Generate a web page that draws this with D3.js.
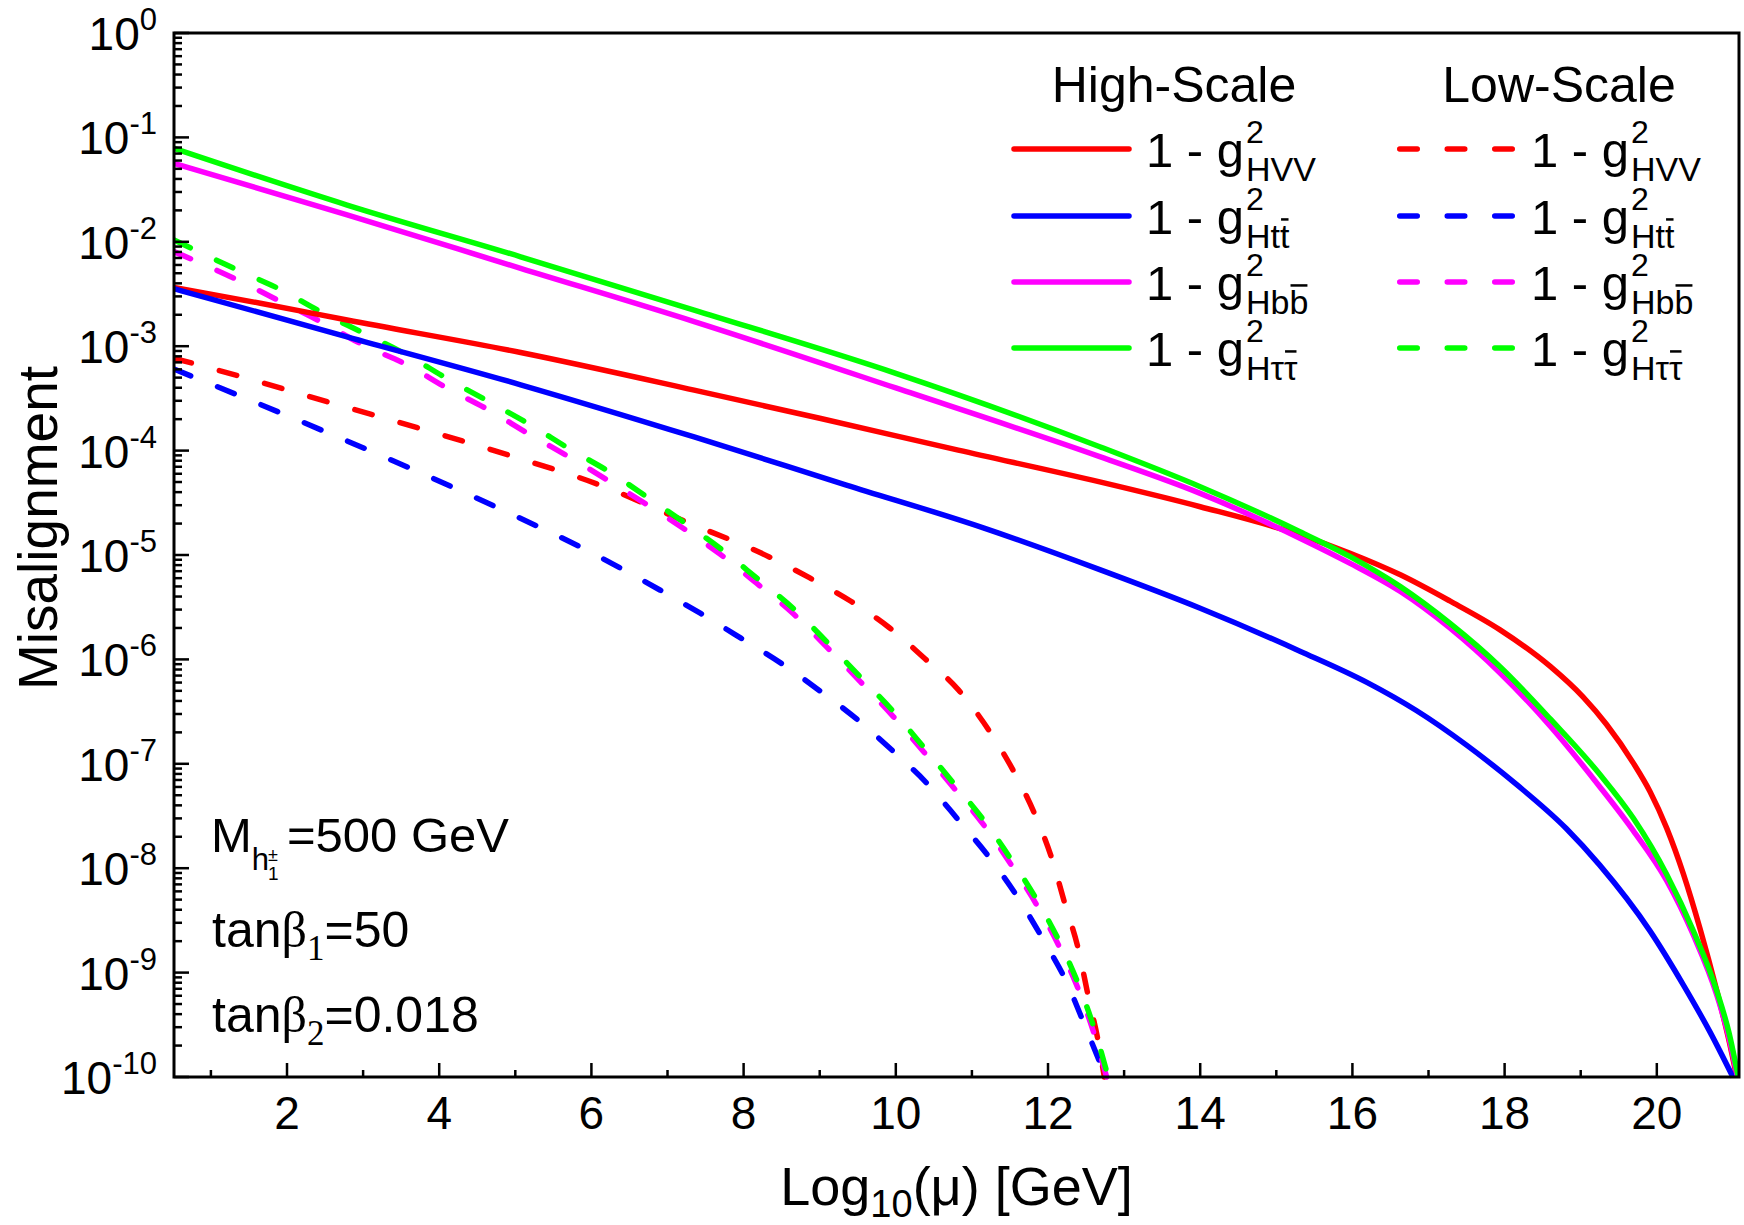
<!DOCTYPE html>
<html>
<head>
<meta charset="utf-8">
<script src="https://cdn.jsdelivr.net/npm/d3@7"></script>
<style>
  html, body { margin: 0; padding: 0; background: #fff; }
  svg text { font-family: "Liberation Sans", Arial, sans-serif; fill: #000; }
</style>
</head>
<body>
<svg id="chart" width="1744" height="1225"></svg>
<script>
// ---------------- data ----------------
// High-scale (solid) curves
const hsVV_x = [0.515,1.65,2.79,5.07,7.35,9.0,10.82,12.68,14.0,15.31,15.97,16.63,17.28,17.94,18.60,19.03,19.34,19.69,19.91,20.13,20.35,20.57,20.79,20.96,21.05];
const hsVV_y = [3.66e-3,2.58e-3,1.78e-3,8.71e-4,3.80e-4,2.04e-4,1.01e-4,5.01e-5,2.90e-5,1.56e-5,1.04e-5,6.46e-6,3.63e-6,1.92e-6,8.57e-7,4.38e-7,2.38e-7,1.02e-7,5.43e-8,2.42e-8,8.77e-9,2.60e-9,6.62e-10,2.05e-10,1e-10];

const hsTT_x = [0.515,2.79,5.07,7.35,9.35,11.15,12.68,14.0,15.31,16.19,16.84,17.50,18.16,18.81,19.25,19.91,20.35,20.70,21.0];
const hsTT_y = [3.55e-3,1.23e-3,4.27e-4,1.35e-4,4.68e-5,1.82e-5,7.24e-6,3.09e-6,1.20e-6,6.03e-7,3.24e-7,1.51e-7,6.31e-8,2.40e-8,1.07e-8,2.51e-9,7.59e-10,2.69e-10,1e-10];

const hsBB_x = [0.515,2.79,5.07,7.35,10.0,12.68,14.0,15.31,15.97,16.63,17.28,17.94,18.60,19.25,19.69,20.13,20.48,20.79,20.94,21.06];
const hsBB_y = [5.65e-2,1.81e-2,5.57e-3,1.72e-3,3.98e-4,8.75e-5,3.89e-5,1.45e-5,8.32e-6,4.47e-6,2.00e-6,7.41e-7,2.29e-7,6.03e-8,2.29e-8,7.59e-9,2.29e-9,6.03e-10,2.51e-10,1e-10];

const hsTauTau_x = [0.515,2.79,5.07,7.35,10.0,12.68,14.0,15.31,15.97,16.63,17.28,17.94,18.60,19.25,19.69,20.13,20.48,20.79,20.95,21.07];
const hsTauTau_y = [7.85e-2,2.25e-2,7.19e-3,2.22e-3,5.50e-4,1.09e-4,4.51e-5,1.67e-5,9.64e-6,4.98e-6,2.22e-6,8.51e-7,2.69e-7,7.94e-8,3.02e-8,8.71e-9,2.51e-9,6.61e-10,2.63e-10,1e-10];

// Low-scale (dashed) curves
const lsVV_x = [0.515,1.39,2.6,3.8,4.98,6.17,7.19,8.33,8.87,9.42,9.92,10.38,10.82,11.22,11.54,11.83,12.05,12.22,12.40,12.53,12.66,12.74];
const lsVV_y = [7.66e-4,5.13e-4,2.84e-4,1.59e-4,8.75e-5,4.51e-5,2.16e-5,9.64e-6,6.03e-6,3.57e-6,2.00e-6,1.02e-6,5.13e-7,2.11e-7,8.71e-8,3.24e-8,1.24e-8,4.61e-9,1.66e-9,5.89e-10,2.19e-10,1e-10];

const lsTT_x = [0.515,1.35,2.51,3.67,4.83,5.93,6.90,7.43,7.97,8.50,9.0,9.49,9.97,10.43,10.84,11.24,11.61,11.94,12.25,12.49,12.76];
const lsTT_y = [6.03e-4,3.41e-4,1.51e-4,6.52e-5,2.70e-5,1.12e-5,4.62e-6,2.77e-6,1.59e-6,9.12e-7,5.01e-7,2.67e-7,1.31e-7,6.27e-8,2.79e-8,1.24e-8,5.15e-9,2.05e-9,7.94e-10,3.03e-10,1e-10];

const lsBB_x = [0.515,1.35,1.92,2.44,3.01,3.58,4.10,4.65,5.20,5.73,6.25,6.78,7.30,7.69,8.17,8.65,9.09,9.53,9.97,10.36,10.76,11.17,11.52,11.85,12.16,12.42,12.62,12.77];
const lsBB_y = [8.05e-3,4.31e-3,2.67e-3,1.72e-3,1.02e-3,6.61e-4,3.98e-4,2.45e-4,1.41e-4,8.51e-5,5.01e-5,2.88e-5,1.62e-5,1.02e-5,5.37e-6,2.75e-6,1.32e-6,6.17e-7,2.82e-7,1.32e-7,5.89e-8,2.51e-8,1.07e-8,4.47e-9,1.70e-9,6.31e-10,2.40e-10,1e-10];

const lsTauTau_x = [0.515,1.35,1.92,2.44,3.01,3.58,4.10,4.65,5.20,5.73,6.25,6.78,7.30,7.69,8.17,8.65,9.09,9.53,9.97,10.36,10.76,11.17,11.52,11.85,12.16,12.42,12.62,12.79];
const lsTauTau_y = [1.04e-2,5.37e-3,3.47e-3,2.14e-3,1.33e-3,8.24e-4,4.90e-4,2.95e-4,1.76e-4,1.02e-4,6.17e-5,3.39e-5,1.86e-5,1.16e-5,6.03e-6,3.09e-6,1.48e-6,6.82e-7,3.16e-7,1.46e-7,6.50e-8,2.79e-8,1.20e-8,5.01e-9,1.91e-9,7.08e-10,2.72e-10,1e-10];

// axes
const xDomain = [0.515, 21.08];
const yDomain = [1e-10, 1];
const xMajorTicks = [2,4,6,8,10,12,14,16,18,20];
const xMinorTicks = [1,3,5,7,9,11,13,15,17,19];
const yMajorTicks = [1,1e-1,1e-2,1e-3,1e-4,1e-5,1e-6,1e-7,1e-8,1e-9,1e-10];
const yTickExponents = ["0","-1","-2","-3","-4","-5","-6","-7","-8","-9","-10"];

const seriesNames = ["HVV","Htt","Hbb","Hττ"];
const seriesColors = ["#ff0000","#0000ff","#ff00ff","#00ff00"];

// ---------------- drawing ----------------
const svg = d3.select("#chart");
const L = 174, R = 1739, T = 33, B = 1077;
const x = d3.scaleLinear().domain(xDomain).range([L, R]);
const y = d3.scaleLog().domain(yDomain).range([B, T]);

svg.append("defs").append("clipPath").attr("id","clip")
  .append("rect").attr("x",L).attr("y",T-4).attr("width",R-L).attr("height",B-T+8);

const high = [[hsVV_x,hsVV_y],[hsTT_x,hsTT_y],[hsBB_x,hsBB_y],[hsTauTau_x,hsTauTau_y]];
const low  = [[lsVV_x,lsVV_y],[lsTT_x,lsTT_y],[lsBB_x,lsBB_y],[lsTauTau_x,lsTauTau_y]];

const line = d3.line().x(d => x(d[0])).y(d => y(d[1])).curve(d3.curveMonotoneX);
const gLines = svg.append("g").attr("clip-path","url(#clip)");

// dashed low-scale curves
low.forEach((s, i) => {
  const pts = s[0].map((v, k) => [v, s[1][k]]);
  gLines.append("path").attr("d", line(pts)).attr("fill","none")
    .attr("stroke", seriesColors[i]).attr("stroke-width",5.5)
    .attr("stroke-dasharray","18,29").attr("stroke-linecap","round");
});
// solid high-scale curves
high.forEach((s, i) => {
  const pts = s[0].map((v, k) => [v, s[1][k]]);
  gLines.append("path").attr("d", line(pts)).attr("fill","none")
    .attr("stroke", seriesColors[i]).attr("stroke-width",5.5)
    .attr("stroke-linejoin","round");
});

// axes ticks
const gAx = svg.append("g").attr("stroke","#000").attr("stroke-width",2.5);
xMajorTicks.forEach(v => gAx.append("line").attr("x1",x(v)).attr("x2",x(v)).attr("y1",B).attr("y2",B-14));
xMinorTicks.forEach(v => gAx.append("line").attr("x1",x(v)).attr("x2",x(v)).attr("y1",B).attr("y2",B-7));
const yAll = y.ticks(11);
yAll.forEach(v => {
  const isMajor = yMajorTicks.some(m => Math.abs(Math.log10(m) - Math.log10(v)) < 1e-6);
  gAx.append("line").attr("x1",L).attr("x2",L + (isMajor ? 15 : 8)).attr("y1",y(v)).attr("y2",y(v));
});

// frame
svg.append("rect").attr("x",L).attr("y",T).attr("width",R-L).attr("height",B-T)
  .attr("fill","none").attr("stroke","#000").attr("stroke-width",3);

// x tick labels
xMajorTicks.forEach(v => {
  svg.append("text").attr("x",x(v)).attr("y",1129).attr("text-anchor","middle")
    .style("font-size","46px").text(v);
});
// y tick labels
yMajorTicks.forEach((v, i) => {
  const t = svg.append("text").attr("x",157).attr("y",y(v)+17).attr("text-anchor","end");
  t.append("tspan").style("font-size","46px").text("10");
  t.append("tspan").attr("dy",-20).style("font-size","31px").text(yTickExponents[i]);
});

// axis titles
const xt = svg.append("text").attr("x",(L+R)/2).attr("y",1205).attr("text-anchor","middle").style("font-size","54px");
xt.append("tspan").text("Log");
xt.append("tspan").attr("dy",12).style("font-size","38px").text("10");
xt.append("tspan").attr("dy",-12).text("(μ) [GeV]");

svg.append("text").attr("transform","translate(57,528) rotate(-90)").attr("text-anchor","middle")
  .style("font-size","55px").text("Misalignment");

// legend
const legendRows = [149, 216, 282, 348];
svg.append("text").attr("x",1174).attr("y",102).attr("text-anchor","middle").style("font-size","50px").text("High-Scale");
svg.append("text").attr("x",1559).attr("y",102).attr("text-anchor","middle").style("font-size","50px").text("Low-Scale");

// measure "1 - g" width once
const meas = svg.append("text").style("font-size","49px").text("1 - g");
const gw = meas.node().getComputedTextLength();
meas.remove();

function legendColumn(x0, dashed) {
  // one text block per legend column (labels are stacked lines)
  const t = svg.append("text");
  const xs = x0 + gw + 2;
  seriesNames.forEach((nm, i) => {
    const yl = legendRows[i];
    t.append("tspan").attr("x",x0).attr("y",yl+17.7).style("font-size","49px").text("1 - g");
    t.append("tspan").attr("x",xs).attr("y",yl-6).style("font-size","32px").text("2");
    t.append("tspan").attr("x",xs).attr("y",yl+32).style("font-size","34px").text(nm);
  });
  // overbars on the antiparticle symbol
  let idx = 0;
  seriesNames.forEach((nm, i) => {
    const yl = legendRows[i];
    const last = idx + 5 + 1 + nm.length - 1;
    if (nm !== "HVV") {
      const ext = t.node().getExtentOfChar(last);
      const by = yl + 32 - 34*0.84;
      svg.append("line").attr("x1",ext.x+1).attr("x2",ext.x+ext.width-1)
        .attr("y1",by).attr("y2",by).attr("stroke","#000").attr("stroke-width",2.5);
    }
    idx += 5 + 1 + nm.length;
  });
}
seriesNames.forEach((nm, i) => {
  const yl = legendRows[i];
  svg.append("line").attr("x1",1014).attr("x2",1129).attr("y1",yl).attr("y2",yl)
    .attr("stroke",seriesColors[i]).attr("stroke-width",5.5).attr("stroke-linecap","round");
  svg.append("line").attr("x1",1399.75).attr("x2",1512.25).attr("y1",yl).attr("y2",yl)
    .attr("stroke",seriesColors[i]).attr("stroke-width",5.5).attr("stroke-linecap","round")
    .attr("stroke-dasharray","17.5,30");
});
legendColumn(1146, false);
legendColumn(1531, true);

// annotations
const m = svg.append("text").attr("x",211).attr("y",852).style("font-size","49px");
m.append("tspan").text("M");
m.append("tspan").attr("dy",18).style("font-size","31px").text("h");
const hx = 251 + 17;
svg.append("text").attr("x",hx).attr("y",861).style("font-size","18px").text("±");
svg.append("text").attr("x",hx).attr("y",880).style("font-size","19px").text("1");
svg.append("text").attr("x",287).attr("y",852).style("font-size","49px").text("=500 GeV");

function tanLabel(yb, idx, val) {
  const t = svg.append("text").attr("x",212).attr("y",yb).style("font-size","50px");
  t.append("tspan").text("tan");
  t.append("tspan").style("font-family","'Liberation Serif', 'Times New Roman', serif").text("β");
  t.append("tspan").attr("dy",13).style("font-family","'Liberation Serif', 'Times New Roman', serif").style("font-size","35px").text(idx);
  t.append("tspan").attr("dy",-13).text("=" + val);
}
tanLabel(947, "1", "50");
tanLabel(1032, "2", "0.018");
</script>
</body>
</html>
